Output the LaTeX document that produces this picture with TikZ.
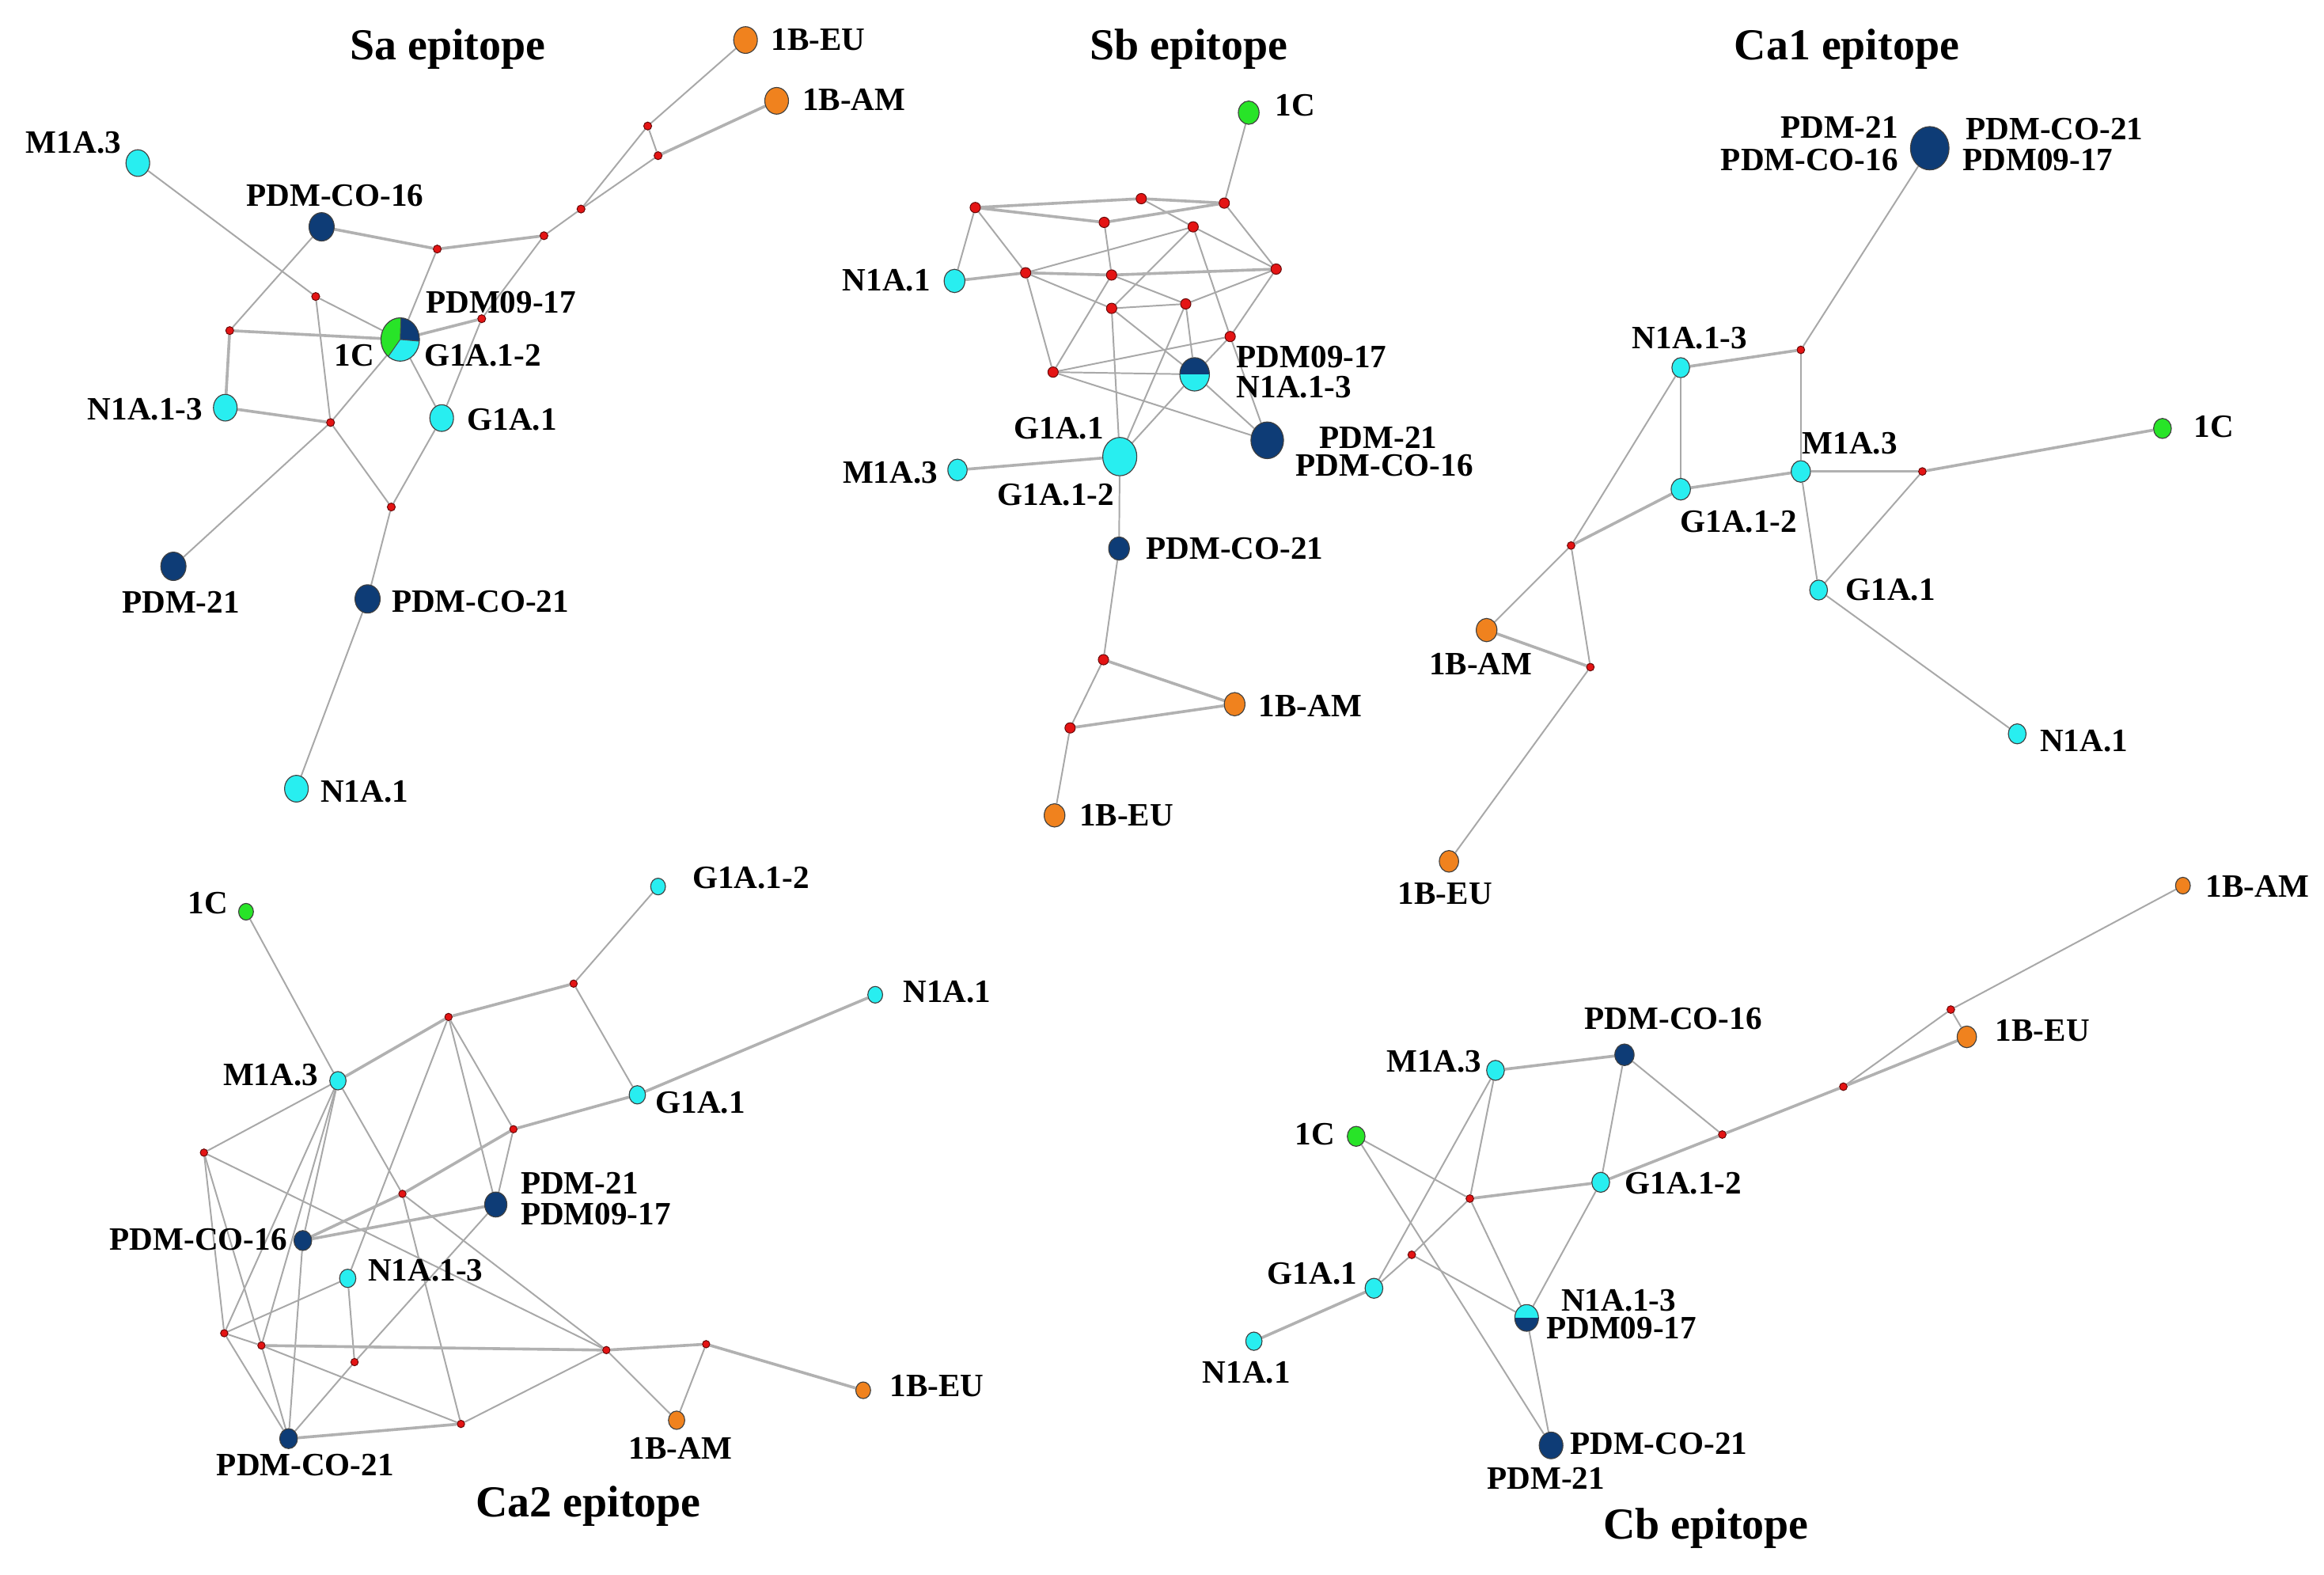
\documentclass[tikz,border=0pt]{standalone}
\usepackage{fontspec}
\setmainfont{Liberation Serif}
\usetikzlibrary{shapes.geometric,backgrounds}
\definecolor{cy}{RGB}{40,238,240}
\definecolor{nv}{RGB}{14,60,118}
\definecolor{og}{RGB}{240,130,30}
\definecolor{gr}{RGB}{40,228,40}
\definecolor{rd}{RGB}{228,20,20}
\definecolor{eg}{RGB}{168,168,168}
\tikzset{
 nd/.style={ellipse, draw=black!75, line width=0.35pt, inner sep=0pt, minimum width=#1*0.4mm, minimum height=#1*0.45mm},
 cyn/.style={nd=#1, fill=cy},
 nvn/.style={nd=#1, fill=nv},
 orn/.style={nd=#1, fill=og},
 grn/.style={nd=#1, fill=gr},
 splitnc/.style={nd=#1, fill=cy, path picture={\fill[nv] (path picture bounding box.north west) rectangle (path picture bounding box.east);}},
 splitcn/.style={nd=#1, fill=nv, path picture={\fill[cy] (path picture bounding box.north west) rectangle (path picture bounding box.east);}},
 pie/.style={nd=#1, fill=cy, path picture={
   \fill[nv] (path picture bounding box.center) -- ++(-5:1cm) arc[start angle=-5,end angle=88,radius=1cm] -- cycle;
   \fill[gr] (path picture bounding box.center) -- ++(88:1cm) arc[start angle=88,end angle=235,radius=1cm] -- cycle;
   \draw[black!70, line width=0.3pt] (path picture bounding box.center) -- ++(-5:1cm)
     (path picture bounding box.center) -- ++(88:1cm) (path picture bounding box.center) -- ++(235:1cm);}},
 med/.style={circle, draw=black!55!rd, fill=rd, line width=0.3pt, inner sep=0pt, minimum size=#1*0.4mm},
 med/.default=2.7,
 ed/.style={draw=eg, line width=0.6pt},
 edt/.style={draw=eg!90, line width=1.1pt},
 lab/.style={font=\fontsize{12.5}{14}\selectfont\bfseries, inner sep=0pt},
 ttl/.style={font=\fontsize{17}{20}\selectfont\bfseries, inner sep=0pt},
}
\begin{document}
\begin{tikzpicture}[x=0.02cm, y=-0.02cm]
\useasboundingbox (0,0) rectangle (1568,1062);

% ================= Sa epitope =================
\node[ttl] (saT) at (302,33) {Sa epitope};
\node[orn=8] (sa1beu) at (503,27) {};
\node[orn=8] (sa1bam) at (524,68) {};
\node[cyn=8] (sam13) at (93,110) {};
\node[nvn=8.5] (sapc16) at (217,153) {};
\node[pie=13] (sabig) at (270,229) {};
\node[cyn=8] (san13) at (152,275) {};
\node[cyn=8] (sag1) at (298,282) {};
\node[nvn=8.5] (sap21) at (117,382) {};
\node[nvn=8.5] (sapc21) at (248,404) {};
\node[cyn=8] (san1) at (200,532) {};
\node[med] (sar1) at (437,85) {};
\node[med] (sar2) at (444,105) {};
\node[med] (sar3) at (392,141) {};
\node[med] (sar4) at (367,159) {};
\node[med] (sar5) at (295,168) {};
\node[med] (sar6) at (213,200) {};
\node[med] (sar7) at (325,215) {};
\node[med] (sar8) at (155,223) {};
\node[med] (sar9) at (223,285) {};
\node[med] (sar10) at (264,342) {};
\node[lab, anchor=west] (saL1) at (520,27) {1B-EU};
\node[lab, anchor=west] (saL2) at (541,67) {1B-AM};
\node[lab, anchor=east] (saL3) at (82,96) {M1A.3};
\node[lab] (saL4) at (226,132) {PDM-CO-16};
\node[lab, anchor=west] (saL5) at (287,204) {PDM09-17};
\node[lab, anchor=east] (saL6) at (253,240) {1C};
\node[lab, anchor=west] (saL7) at (286,240) {G1A.1-2};
\node[lab, anchor=east] (saL8) at (137,276) {N1A.1-3};
\node[lab, anchor=west] (saL9) at (315,283) {G1A.1};
\node[lab] (saL10) at (122,406) {PDM-21};
\node[lab, anchor=west] (saL11) at (264,406) {PDM-CO-21};
\node[lab, anchor=west] (saL12) at (216,534) {N1A.1};

% ================= Sb epitope =================
\node[ttl] (sbT) at (802,33) {Sb epitope};
\node[grn=7] (sb1c) at (842.5,76) {};
\node[med=3.5] (sba) at (658,140) {};
\node[med=3.5] (sbb) at (770,134) {};
\node[med=3.5] (sbc) at (826,137) {};
\node[med=3.5] (sbd) at (745,150) {};
\node[med=3.5] (sbe) at (805,153) {};
\node[med=3.5] (sbf) at (861,181.5) {};
\node[med=3.5] (sbg) at (692,184) {};
\node[med=3.5] (sbh) at (750,185.5) {};
\node[med=3.5] (sbi) at (750,208) {};
\node[med=3.5] (sbj) at (800,205) {};
\node[med=3.5] (sbk) at (830,227) {};
\node[med=3.5] (sbl) at (710.5,251) {};
\node[cyn=7] (sbn1) at (644,189.5) {};
\node[splitnc=10] (sbs) at (806,252.5) {};
\node[nvn=11] (sbp21) at (855,297) {};
\node[cyn=11.5] (sbg1) at (755.5,308) {};
\node[cyn=6.5] (sbm13) at (646,317) {};
\node[nvn=7] (sbpc21) at (755,370) {};
\node[med=3.5] (sbm) at (744.5,445) {};
\node[med=3.5] (sbn) at (722,491) {};
\node[orn=7] (sb1bam) at (833,475) {};
\node[orn=7] (sb1beu) at (711.5,550) {};
\node[lab, anchor=west] (sbL1) at (860,71) {1C};
\node[lab, anchor=east] (sbL2) at (628,189) {N1A.1};
\node[lab, anchor=west] (sbL3) at (834,241) {PDM09-17};
\node[lab, anchor=west] (sbL4) at (834,261) {N1A.1-3};
\node[lab, anchor=east] (sbL5) at (745,289) {G1A.1};
\node[lab, anchor=west] (sbL6) at (890,295) {PDM-21};
\node[lab, anchor=west] (sbL7) at (874,314) {PDM-CO-16};
\node[lab, anchor=east] (sbL8) at (633,319) {M1A.3};
\node[lab, anchor=east] (sbL9) at (752,334) {G1A.1-2};
\node[lab, anchor=west] (sbL10) at (773,370) {PDM-CO-21};
\node[lab, anchor=west] (sbL11) at (849,476) {1B-AM};
\node[lab, anchor=west] (sbL12) at (728,550) {1B-EU};

% ================= Ca1 epitope =================
\node[ttl] (caT) at (1246,33) {Ca1 epitope};
\node[nvn=13] (cabig) at (1302,100) {};
\node[med=2.6] (car1) at (1215,236) {};
\node[med=2.6] (car2) at (1297,318) {};
\node[med=2.6] (car3) at (1060,368) {};
\node[med=2.6] (car4) at (1073,450) {};
\node[cyn=6] (can13) at (1134,248) {};
\node[grn=6] (ca1c) at (1459,289) {};
\node[cyn=6.5] (cam13) at (1215,318) {};
\node[cyn=6.5] (cag12) at (1134,330) {};
\node[cyn=6] (cag1) at (1227,398) {};
\node[orn=7] (ca1bam) at (1003,425) {};
\node[cyn=6] (can1) at (1361,495) {};
\node[orn=6.5] (ca1beu) at (977.6,581) {};
\node[lab, anchor=east] (caL1) at (1281,86) {PDM-21};
\node[lab, anchor=east] (caL2) at (1281,108) {PDM-CO-16};
\node[lab, anchor=west] (caL3) at (1326,87) {PDM-CO-21};
\node[lab, anchor=west] (caL4) at (1324,108) {PDM09-17};
\node[lab] (caL5) at (1140,228) {N1A.1-3};
\node[lab] (caL6) at (1248,299) {M1A.3};
\node[lab, anchor=west] (caL7) at (1480,288) {1C};
\node[lab] (caL8) at (1173,352) {G1A.1-2};
\node[lab, anchor=west] (caL9) at (1245,398) {G1A.1};
\node[lab] (caL10) at (999,448) {1B-AM};
\node[lab, anchor=west] (caL11) at (1376,500) {N1A.1};
\node[lab] (caL12) at (975,603) {1B-EU};

% ================= Ca2 epitope =================
\node[ttl] (ccT) at (397,1016) {Ca2 epitope};
\node[grn=5] (cc1c) at (166,615) {};
\node[cyn=5] (ccg12) at (444,598) {};
\node[cyn=5] (ccn1) at (590.5,671) {};
\node[cyn=5.5] (ccm13) at (228,729) {};
\node[cyn=5.5] (ccg1) at (430,738.5) {};
\node[nvn=7.5] (ccp21) at (334.5,812.5) {};
\node[nvn=6] (ccpc16) at (204.3,836.8) {};
\node[cyn=5.5] (ccn13) at (234.6,862.3) {};
\node[nvn=6] (ccpc21) at (194.7,970.4) {};
\node[orn=5.5] (cc1bam) at (456.5,958) {};
\node[orn=5] (cc1beu) at (582.4,937.8) {};
\node[med=2.5] (ccrt) at (387,663.5) {};
\node[med=2.5] (ccrt2) at (302.6,686) {};
\node[med=2.5] (ccra) at (137.6,777.5) {};
\node[med=2.5] (ccrb) at (346.4,761.7) {};
\node[med=2.5] (ccrc) at (271.5,805.3) {};
\node[med=2.5] (ccrd) at (151.3,899.3) {};
\node[med=2.5] (ccre) at (176.4,907.6) {};
\node[med=2.5] (ccrf) at (239.2,918.8) {};
\node[med=2.5] (ccrg) at (409.1,910.7) {};
\node[med=2.5] (ccrh) at (476.4,906.7) {};
\node[med=2.5] (ccri) at (311,960.5) {};
\node[lab, anchor=east] (ccL1) at (154,609) {1C};
\node[lab, anchor=west] (ccL2) at (467,592) {G1A.1-2};
\node[lab, anchor=west] (ccL3) at (609,669) {N1A.1};
\node[lab, anchor=east] (ccL4) at (215,725) {M1A.3};
\node[lab, anchor=west] (ccL5) at (442,744) {G1A.1};
\node[lab, anchor=west] (ccL6) at (351,798) {PDM-21};
\node[lab, anchor=west] (ccL7) at (351,819) {PDM09-17};
\node[lab, anchor=east] (ccL8) at (194,836) {PDM-CO-16};
\node[lab, anchor=west] (ccL9) at (248,857) {N1A.1-3};
\node[lab, anchor=west] (ccL10) at (600,935) {1B-EU};
\node[lab] (ccL11) at (459,977) {1B-AM};
\node[lab] (ccL12) at (206,988) {PDM-CO-21};

% ================= Cb epitope =================
\node[ttl] (cdT) at (1151,1031) {Cb epitope};
\node[orn=5] (cd1bam) at (1472.8,597.4) {};
\node[med=2.6] (cdr1) at (1316.2,681) {};
\node[orn=6.5] (cd1beu) at (1327,699.4) {};
\node[nvn=6.5] (cdpc16) at (1096,711.5) {};
\node[cyn=6] (cdm13) at (1009,722) {};
\node[med=2.6] (cdr2) at (1243.7,733) {};
\node[med=2.6] (cdr3) at (1162,765.3) {};
\node[grn=6] (cd1c) at (915,766.5) {};
\node[cyn=6] (cdg12) at (1080,797.5) {};
\node[med=2.6] (cdr4) at (991.7,808.5) {};
\node[med=2.6] (cdr5) at (952.5,846.4) {};
\node[cyn=6] (cdg1) at (927,869) {};
\node[splitcn=8] (cds) at (1030,889) {};
\node[cyn=5.5] (cdn1) at (846,904.7) {};
\node[nvn=8] (cdpc21) at (1046.5,975) {};
\node[lab, anchor=west] (cdL1) at (1488,598) {1B-AM};
\node[lab] (cdL2) at (1129,687) {PDM-CO-16};
\node[lab, anchor=west] (cdL3) at (1346,695) {1B-EU};
\node[lab, anchor=east] (cdL4) at (1000,716) {M1A.3};
\node[lab, anchor=east] (cdL5) at (901,765) {1C};
\node[lab, anchor=west] (cdL6) at (1096,798) {G1A.1-2};
\node[lab, anchor=east] (cdL7) at (916,859) {G1A.1};
\node[lab, anchor=west] (cdL8) at (1053,877) {N1A.1-3};
\node[lab, anchor=west] (cdL9) at (1043,896) {PDM09-17};
\node[lab] (cdL10) at (841,926) {N1A.1};
\node[lab, anchor=west] (cdL11) at (1059,974) {PDM-CO-21};
\node[lab] (cdL12) at (1043,997) {PDM-21};

% ================= connectors =================
\begin{scope}[on background layer]
\fill[white] (0,0) rectangle (1568,1062);
\foreach \a/\b in {sa1beu/sar1, sar1/sar2, sar1/sar3, sar2/sar3, sar3/sar4,
  sar5/sabig, sar4/sar7, sar7/sag1, sapc16/sar8, sam13/sar6, sar6/sabig,
  sar6/sar9, sabig/sar9, sar9/sap21, sabig/sag1, sag1/sar10, sar9/sar10,
  sar10/sapc21, sapc21/san1}
  \draw[ed] (\a) -- (\b);
\foreach \a/\b in {sa1bam/sar2, sar4/sar5, sar5/sapc16, sar7/sabig, sar8/sabig, san13/sar9, sar8/san13}
  \draw[edt] (\a) -- (\b);

\foreach \a/\b in {sb1c/sbc, sbb/sbe, sbc/sbf, sba/sbn1, sba/sbg, sbd/sbh,
  sbe/sbg, sbe/sbf, sbe/sbi, sbe/sbk, sbg/sbi, sbh/sbj, sbg/sbl, sbh/sbl,
  sbi/sbj, sbj/sbf, sbi/sbg1, sbj/sbg1, sbi/sbs, sbj/sbs, sbl/sbs, sbl/sbk,
  sbk/sbf, sbk/sbs, sbk/sbp21, sbl/sbp21, sbs/sbp21, sbs/sbg1, sbg1/sbpc21,
  sbpc21/sbm, sbm/sbn, sbn/sb1beu}
  \draw[ed] (\a) -- (\b);
\foreach \a/\b in {sba/sbb, sbb/sbc, sba/sbd, sbd/sbc, sbn1/sbg, sbg/sbh, sbh/sbf,
  sbg1/sbm13, sbm/sb1bam, sbn/sb1bam}
  \draw[edt] (\a) -- (\b);

\foreach \a/\b in {cabig/car1, car1/cam13, can13/cag12, can13/car3, car2/cag1,
  cam13/cag1, cag1/can1, car3/car4, car3/ca1bam, car4/ca1beu}
  \draw[ed] (\a) -- (\b);
\foreach \a/\b in {car1/can13, cag12/cam13, cam13/car2, car2/ca1c, cag12/car3, ca1bam/car4}
  \draw[edt] (\a) -- (\b);

\foreach \a/\b in {cc1c/ccm13, ccg12/ccrt, ccrt/ccg1, ccrt2/ccn13, ccrt2/ccp21,
  ccrt2/ccrb, ccrb/ccp21, ccrc/ccri, ccrc/ccrg, ccm13/ccrc, ccm13/ccra,
  ccm13/ccrd, ccm13/ccre, ccm13/ccpc16, ccra/ccrd, ccra/ccre, ccra/ccrg,
  ccpc16/ccpc21, ccrd/ccn13, ccrd/ccre, ccrd/ccpc21, ccre/ccri, ccre/ccpc21,
  ccn13/ccrf, ccrf/ccp21, ccrf/ccpc21, ccri/ccrg, ccrg/cc1bam, ccrh/cc1bam}
  \draw[ed] (\a) -- (\b);
\foreach \a/\b in {ccrt/ccrt2, ccn1/ccg1, ccg1/ccrb, ccrt2/ccm13, ccrb/ccrc,
  ccrc/ccpc16, ccpc16/ccp21, ccre/ccrg, ccrg/ccrh, ccrh/cc1beu, ccri/ccpc21}
  \draw[edt] (\a) -- (\b);

\foreach \a/\b in {cd1bam/cdr1, cdr1/cd1beu, cdr1/cdr2, cdr3/cdpc16,
  cdpc16/cdg12, cdg12/cds, cdm13/cdg1, cdm13/cdr4, cd1c/cdr4, cd1c/cdpc21,
  cdr4/cdr5, cdr4/cds, cdr5/cdg1, cdr5/cds, cds/cdpc21}
  \draw[ed] (\a) -- (\b);
\foreach \a/\b in {cd1beu/cdr2, cdr2/cdr3, cdr3/cdg12, cdpc16/cdm13, cdg12/cdr4, cdg1/cdn1}
  \draw[edt] (\a) -- (\b);
\end{scope}
\end{tikzpicture}
\end{document}
